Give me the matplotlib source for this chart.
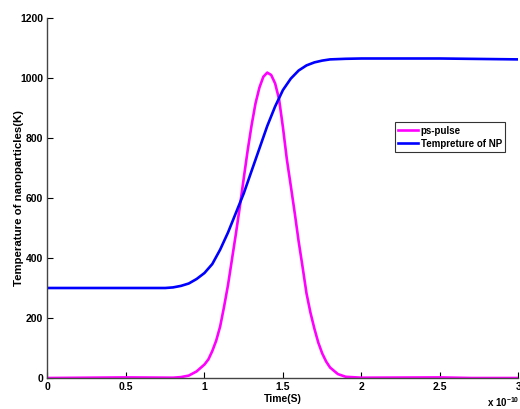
import matplotlib
matplotlib.use("Agg")
import matplotlib.pyplot as plt

# time in units of 1e-10 s
pulse_t = [0, 0.5, 0.8, 0.85, 0.9, 0.95, 1.0, 1.025, 1.05, 1.075, 1.1, 1.125, 1.15, 1.175,
           1.2, 1.225, 1.25, 1.275, 1.3, 1.325, 1.35, 1.375, 1.4, 1.425, 1.45, 1.475,
           1.5, 1.525, 1.55, 1.575, 1.6, 1.625, 1.65, 1.675, 1.7, 1.725, 1.75, 1.775,
           1.8, 1.85, 1.9, 2.0, 2.5, 2.7, 3.0]
pulse_v = [0, 2, 1, 3, 8, 22, 45, 62, 90, 125, 172, 238, 310, 395,
           480, 570, 665, 758, 842, 915, 968, 1004, 1018, 1010, 982, 930,
           835, 728, 640, 550, 455, 370, 282, 218, 165, 118, 82, 55,
           35, 13, 4, 1, 2, 0, 0]

temp_t = [0, 0.5, 0.75, 0.8, 0.85, 0.9, 0.95, 1.0, 1.05, 1.1, 1.15, 1.2, 1.25, 1.3, 1.35,
          1.4, 1.45, 1.5, 1.55, 1.6, 1.65, 1.7, 1.75, 1.8, 1.9, 2.0, 2.5, 3.0]
temp_v = [300, 300, 300, 302, 307, 315, 330, 350, 380, 428, 485, 550, 615, 690, 765,
          840, 905, 960, 998, 1025, 1042, 1052, 1058, 1062, 1064, 1065, 1065, 1062]

xticks = [0, 0.5, 1, 1.5, 2, 2.5, 3]
xticklabels = ["0", "0.5", "1", "1.5", "2", "2.5", "3"]
yticks = [0, 200, 400, 600, 800, 1000, 1200]

plt.rcParams['font.family'] = ['Liberation Sans', 'DejaVu Sans']
plt.rcParams['font.weight'] = 'bold'
plt.rcParams['mathtext.fontset'] = 'custom'
plt.rcParams['mathtext.rm'] = 'Liberation Sans:bold'
plt.rcParams['mathtext.bf'] = 'Liberation Sans:bold'

fig = plt.figure(figsize=(5.2, 4.09), dpi=100)
ax = fig.add_axes([0.0913, 0.0758, 0.9057, 0.8802])

ax.plot(pulse_t, pulse_v, color='#ff00ff', lw=1.9, label='ps-pulse')
ax.plot(temp_t, temp_v, color='#0000ff', lw=1.9, label='Tempreture of NP')

ax.set_xlim(0, 3)
ax.set_ylim(0, 1200)
ax.set_xticks(xticks)
ax.set_xticklabels(xticklabels)
ax.set_yticks(yticks)
for s in ['top', 'right']:
    ax.spines[s].set_visible(False)
for s in ['left', 'bottom']:
    ax.spines[s].set_color('#444444')
    ax.spines[s].set_linewidth(1.0)
ax.tick_params(direction='in', length=4, width=0.8, labelsize=7.5, pad=3, colors='black')
for lbl in ax.get_xticklabels() + ax.get_yticklabels():
    lbl.set_fontweight('bold')

ax.set_xlabel('Time(S)', fontsize=7.5, fontweight='bold', labelpad=1)
ax.set_ylabel('Temperature of nanoparticles(K)', fontsize=8.2, fontweight='bold', labelpad=-2.5)

fig.text(0.998, 0.017, r'x 10$^{-10}$', fontsize=7, fontweight='bold', ha='right', va='center')

leg = ax.legend(loc='upper left', bbox_to_anchor=(0.738, 0.71), fontsize=7, frameon=True,
                fancybox=False, edgecolor='black', handlelength=2.0, handletextpad=0.3,
                borderpad=0.35, labelspacing=0.3, borderaxespad=0)
leg.get_frame().set_linewidth(0.8)
for t in leg.get_texts():
    t.set_fontweight('bold')

fig.savefig('out.png', dpi=100)
